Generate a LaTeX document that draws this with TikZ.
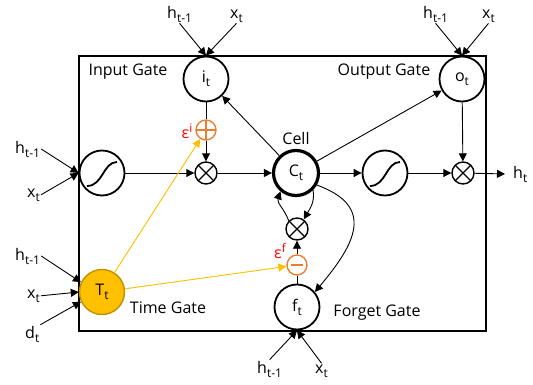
\documentclass[tikz,border=0pt]{standalone}
\usepackage{fontspec}
\setmainfont{Open Sans}
\usepackage{tikz}
\usetikzlibrary{arrows.meta, positioning}
\definecolor{tlOrange}{HTML}{ED7D31}
\definecolor{tlYellow}{HTML}{FFC000}
\definecolor{tlGold}{HTML}{BF9000}
\definecolor{tlRed}{HTML}{FF0000}
\newcommand{\tsub}[2]{#1\raisebox{-4pt}{\fontsize{12}{12}\selectfont #2}}
\newcommand{\tsup}[2]{#1\raisebox{6pt}{\fontsize{12}{12}\selectfont #2}}

\begin{document}
\begin{tikzpicture}[
  x=1pt, y=1pt,
  font=\fontsize{16}{19}\selectfont,
  gate/.style={
    circle, draw, fill=white, line width=1.8pt,
    minimum size=45pt, inner sep=0pt,
  },
  cell/.style={gate, line width=3.2pt},
  sigm/.style={gate,
    path picture={\draw[line width=1.8pt]
      ([shift={(-15,-13)}]path picture bounding box.center)
      .. controls +(16,0) and +(-14,0) ..
      ([shift={(15,11)}]path picture bounding box.center);}},
  mult/.style={
    circle, draw, fill=white, line width=1.4pt, minimum size=22pt, inner sep=0pt,
    path picture={\draw[line width=1.1pt]
      (path picture bounding box.north west) -- (path picture bounding box.south east)
      (path picture bounding box.north east) -- (path picture bounding box.south west);}},
  addi/.style={
    circle, draw=tlOrange, fill=white, line width=1.4pt, minimum size=20pt, inner sep=0pt,
    path picture={\draw[tlOrange, line width=1.3pt]
      (path picture bounding box.north) -- (path picture bounding box.south)
      (path picture bounding box.east) -- (path picture bounding box.west);}},
  subf/.style={
    circle, draw=tlOrange, fill=white, line width=1.4pt, minimum size=20pt, inner sep=0pt,
    path picture={\draw[tlOrange, line width=1.3pt]
      ([xshift=-6pt]path picture bounding box.center) -- ([xshift=6pt]path picture bounding box.center);}},
  lab/.style={inner sep=1pt, anchor=base west},
  eps/.style={inner sep=1pt, text=tlRed},
  arr/.style={-{Triangle[length=8pt, width=8pt]}, line width=0.9pt},
  tarr/.style={arr, draw=tlYellow, fill=tlYellow},
]
\useasboundingbox (0,0) rectangle (533,384);

\draw[line width=1.6pt] (79,53) rectangle (486,328);

% Gates
\node[gate] (it) at (206,305) {\tsub{i}{t}};
\node[gate] (ot) at (462,305) {\tsub{o}{t}};
\node[sigm] (sgL) at (102,211) {};
\node[mult] (mulI) at (206,211) {};
\node[addi] (addI) at (206,254) {};
\node[cell] (Ct) at (296,211) {\tsub{C}{t}};
\node[sigm] (sgR) at (385,211) {};
\node[mult] (mulO) at (463,211) {};
\node[mult] (mulF) at (297,155) {};
\node[subf] (subF) at (297,119) {};
\node[gate] (ft) at (297,77) {\tsub{f}{t}};
\node[gate, fill=tlYellow, draw=tlGold, line width=1.4pt] (Tt) at (102,92) {\tsub{T}{t}};

% Names
\node (lblIn) at (128,312) {Input Gate};
\node (lblOut) at (384,312) {Output Gate};
\node (lblCell) at (296,246) {Cell};
\node (lblFg) at (377,71) {Forget Gate};
\node (lblTm) at (168,76) {Time Gate};
\node[eps] (epsI) at (187,253) {\tsup{ε}{i}};
\node[eps] (epsF) at (280,133) {\tsup{ε}{f}};

% Inputs
\node[lab] (hI) at (166,366) {\tsub{h}{t-1}};
\node[lab] (xI) at (229,366) {\tsub{x}{t}};
\node[lab] (hO) at (422,366) {\tsub{h}{t-1}};
\node[lab] (xO) at (481,366) {\tsub{x}{t}};
\node[lab] (hS) at (14,231) {\tsub{h}{t-1}};
\node[lab] (xS) at (26,187) {\tsub{x}{t}};
\node[lab] (hT) at (14,124) {\tsub{h}{t-1}};
\node[lab] (xT) at (26,86) {\tsub{x}{t}};
\node[lab] (dT) at (24,46) {\tsub{d}{t}};
\node[lab] (hF) at (256,11) {\tsub{h}{t-1}};
\node[lab] (xF) at (314,11) {\tsub{x}{t}};
\node[lab, inner xsep=8pt] (ht) at (505,206) {\tsub{h}{t}};

\draw[arr] (hI.south) -- (it.north);
\draw[arr] (xI.south) -- (it.north);
\draw[arr] (hO.south) -- (ot.north);
\draw[arr] (xO.south) -- (ot.north);
\draw[arr] (hS.east) -- (sgL.west);
\draw[arr] (xS.east) -- (sgL.west);
\draw[arr] (hT.east) -- (Tt.155);
\draw[arr] (xT.east) -- (Tt.west);
\draw[arr] (dT.north east) -- (Tt.205);
\draw[arr] (hF.north) -- (ft.south);
\draw[arr] (xF.north) -- (ft.south);

% Flow
\draw[arr] (sgL) -- (mulI);
\draw[arr] (mulI) -- (Ct);
\draw[line width=0.9pt] (it) -- (addI);
\draw[arr] (addI) -- (mulI);
\draw[arr] (Ct) -- (it);
\draw[arr] (Ct) -- (ot);
\draw[arr] (Ct) -- (sgR);
\draw[arr] (sgR) -- (mulO);
\draw[arr] (ot) -- (mulO);
\draw[arr] (mulO) -- (ht.west);
\draw[arr] (Ct.-45) to[out=-80, in=60] (mulF.55);
\draw[arr] (mulF.135) to[out=110, in=-110] (Ct.-130);
\draw[arr] (Ct.-30) to[out=-20, in=50, looseness=1.5] (ft.40);
\draw[line width=0.9pt] (ft) -- (subF);
\draw[arr] (subF) -- (mulF);
\draw[tarr] (Tt) -- (addI);
\draw[tarr] (Tt) -- (subF);

\end{tikzpicture}
\end{document}
